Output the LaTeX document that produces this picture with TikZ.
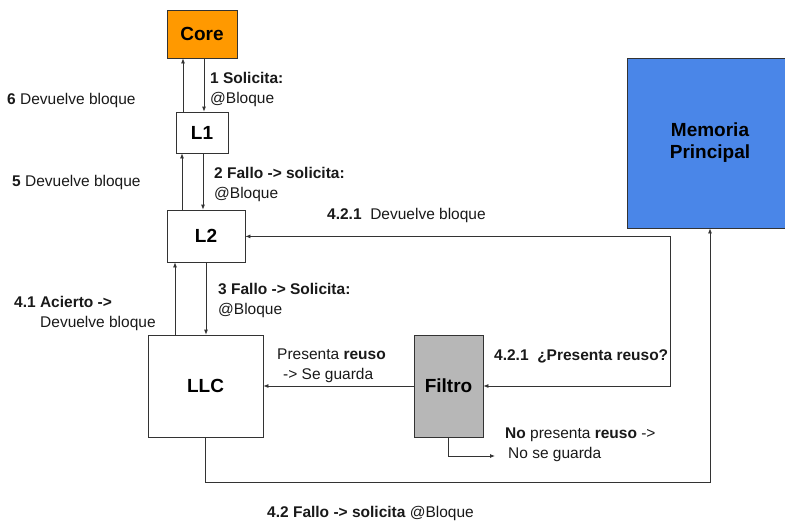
\documentclass[tikz,border=0pt]{standalone}
\usepackage{fontspec}
\setmainfont{Liberation Sans}
\usetikzlibrary{arrows.meta, positioning, calc}
\definecolor{coreorange}{HTML}{FF9900}
\definecolor{memblue}{HTML}{4A86E8}
\definecolor{filtergrey}{HTML}{B7B7B7}
\definecolor{inkdark}{HTML}{333333}

\begin{document}
\begin{tikzpicture}[x=1pt, y=-1pt,
  box/.style={draw=inkdark, line width=0.8pt, inner sep=0pt, align=center,
    font=\fontsize{19}{22}\selectfont\bfseries},
  lbl/.style={anchor=west, inner sep=0pt, align=left, text=black!90,
    font=\fontsize{15.5}{20}\selectfont},
  flow/.style={draw=inkdark, line width=0.8pt, -{Latex[length=5pt, width=4pt]}}]
  \useasboundingbox (0,0) rectangle (785,522);
  % caches and memory
  \node[box, fill=coreorange, minimum width=70pt, minimum height=48pt] (core) at (202,34) {Core};
  \node[box, minimum width=52pt, minimum height=41pt] (l1) at (202,132.5) {L1};
  \node[box, minimum width=78pt, minimum height=52pt] (l2) at (206,236) {L2};
  \node[box, minimum width=115pt, minimum height=102pt] (llc) at (205.5,386) {LLC};
  \node[box, fill=filtergrey, minimum width=69pt, minimum height=102pt] (filtro) at (448.5,386) {Filtro};
  \node[box, fill=memblue, minimum width=166pt, minimum height=170pt] (mem) at (710,143) {Memoria\\Principal};
  % request / return pairs
  \foreach \upper/\lower/\dn/\up in {core/l1/2/-19, l1/l2/1/-20, l2/llc/0/-31}{%
    \draw[flow] ([xshift=\dn pt]\upper.south) -- ([xshift=\dn pt]\upper.south |- \lower.north);
    \draw[flow] ([xshift=\up pt]\upper.south |- \lower.north) -- ([xshift=\up pt]\upper.south);}
  % memory answers
  \coordinate (tap) at ([xshift=-40pt, yshift=-8pt]mem.south);
  \coordinate (discard) at (495,456);
  \draw[flow] (tap) -- (tap -| l2.east);
  \draw[flow] (tap) |- (filtro.east);
  \draw[flow] (filtro.west) -- (llc.east);
  \draw[flow] (filtro.south) |- (discard);
  \draw[flow] (llc.south) -- ++(0,45) -| (mem.south);
  % labels
  \node[lbl] (ask1) at (210,89) {\textbf{1 Solicita:}\\@Bloque};
  \node[lbl] (ret6) at (7,100) {\textbf{6} Devuelve bloque};
  \node[lbl] (ask2) at (214,184.5) {\textbf{2 Fallo -> solicita:}\\@Bloque};
  \node[lbl] (ret5) at (12,182) {\textbf{5} Devuelve bloque};
  \node[lbl] (retmem) at (327,215) {\textbf{4.2.1}\ \ Devuelve bloque};
  \node[lbl] (ask3) at (218,300.5) {\textbf{3 Fallo -> Solicita:}\\@Bloque};
  \node[lbl] (hit41) at (14,313.5) {\textbf{4.1 Acierto ->}\\\hspace*{26pt}Devuelve bloque};
  \node[lbl] (keep) at (277,366) {Presenta \textbf{reuso}\\\hspace*{6pt}-> Se guarda};
  \node[lbl] (ask421) at (494,356) {\textbf{4.2.1\ \ ¿Presenta reuso?}};
  \node[lbl] (drop) at (505,444.5) {\textbf{No} presenta \textbf{reuso} ->\\\hspace*{3pt}No se guarda};
  \node[lbl] (miss42) at (267,513) {\textbf{4.2 Fallo -> solicita} @Bloque};
\end{tikzpicture}
\end{document}
